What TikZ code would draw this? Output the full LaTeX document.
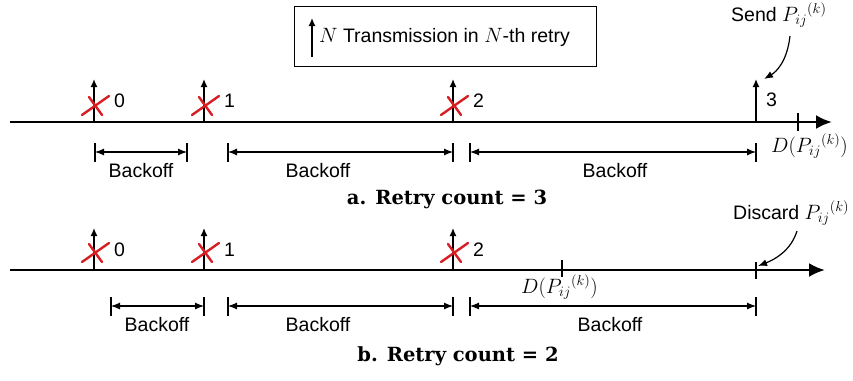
\documentclass[tikz,border=0pt]{standalone}
\usepackage{fontspec}
\setmainfont{Liberation Sans}
\newfontfamily\capfont{DejaVu Serif}
\usetikzlibrary{arrows.meta}
\definecolor{xred}{RGB}{215,30,35}
\newcommand{\Pk}{P_{ij}{}^{(k)}}
\begin{document}
\begin{tikzpicture}[x=1pt,y=-1pt,
  font=\fontsize{19.5}{23}\selectfont,
  mathlbl/.style={font=\fontsize{22}{26}\selectfont},
  timeline/.style={line width=2.6pt,-{Latex[length=16pt,width=14pt]}},
  uparrow/.style={line width=1.4pt,-{Latex[length=8pt,width=7pt]}},
  dimline/.style={line width=1.1pt,{Latex[length=9pt,width=7pt]}-{Latex[length=9pt,width=7pt]}},
  bar/.style={line width=1.3pt},
  curvearrow/.style={line width=1.2pt,-{Latex[length=9pt,width=7pt]}},
  caption/.style={font=\capfont\bfseries\fontsize{19.5}{23}\selectfont},
  redx/.pic={\draw[xred,line width=2.4pt,line cap=round] (-12,10) -- (15,-9);
             \draw[xred,line width=2.4pt,line cap=round] (-5,-8) -- (8,10);}
]
\useasboundingbox (0,0) rectangle (853,380);
% ---------- legend ----------
\node[draw,line width=1.2pt,minimum width=302pt,minimum height=60pt,anchor=north west] (legend) at (294,6) {};
\coordinate (lgb) at (312,57);
\coordinate (lgt) at (312,18);
\draw[uparrow] (lgb) -- (lgt);
\node[anchor=west,inner sep=0] (legtext) at (319,37) {$N$ Transmission in $N$-th retry};

% ---------- part a ----------
\coordinate (aL) at (10,122);
\coordinate (aR) at (832,122);
\draw[timeline] (aL) -- (aR);
\foreach \n/\x in {0/94,1/204,2/453}{
  \coordinate (a\n) at (\x,122);
  \coordinate (a\n t) at (\x,79);
  \draw[uparrow] (a\n) -- (a\n t);
  \pic at (\x,105) {redx};
  \node[anchor=west,inner sep=0] (al\n) at (\x+20,101) {\n};
}
\coordinate (a3) at (756,122);
\coordinate (a3t) at (756,79);
\draw[uparrow] (a3) -- (a3t);
\node[anchor=west,inner sep=0] (al3) at (766,100) {3};
\coordinate (aDt) at (798,113);
\coordinate (aDb) at (798,131);
\draw[bar] (aDt) -- (aDb);
\node[mathlbl,anchor=west,inner sep=0] (aD) at (771,146) {$D(\Pk)$};
\node[anchor=west,inner sep=0] (send) at (731,15) {Send \fontsize{22}{26}\selectfont$\Pk$};
\coordinate (sendS) at (790,36);
\coordinate (sendE) at (764,79);
\draw[curvearrow] (sendS) .. controls (787,62) and (776,72) .. (sendE);
% backoffs a
\foreach \i/\xa/\xb in {1/95/187,2/228/453,3/470/756}{
  \coordinate (ab\i l) at (\xa,152);
  \coordinate (ab\i r) at (\xb,152);
  \draw[dimline] (ab\i l) -- (ab\i r);
  \draw[bar] (\xa,143) -- (\xa,162);
  \draw[bar] (\xb,143) -- (\xb,162);
}
\node (abt1) at (141,171) {Backoff};
\node (abt2) at (318,171) {Backoff};
\node (abt3) at (615,171) {Backoff};
\node[caption] (capa) at (447,199) {a. Retry count = 3};

% ---------- part b ----------
\coordinate (bL) at (10,270);
\coordinate (bR) at (825,270);
\draw[timeline] (bL) -- (bR);
\foreach \n/\x in {0/94,1/204,2/453}{
  \coordinate (b\n) at (\x,270);
  \coordinate (b\n t) at (\x,228);
  \draw[uparrow] (b\n) -- (b\n t);
  \pic at (\x,252) {redx};
  \node[anchor=west,inner sep=0] (bl\n) at (\x+20,250) {\n};
}
\coordinate (bDt) at (562,260);
\coordinate (bDb) at (562,277);
\draw[bar] (bDt) -- (bDb);
\node[mathlbl,anchor=west,inner sep=0] (bD) at (521,287) {$D(\Pk)$};
\coordinate (bXt) at (756,262);
\coordinate (bXb) at (756,279);
\draw[bar] (bXt) -- (bXb);
\node[anchor=west,inner sep=0] (discard) at (733,213) {Discard \fontsize{22}{26}\selectfont$\Pk$};
\coordinate (discS) at (797,231);
\coordinate (discE) at (758,266);
\draw[curvearrow] (discS) .. controls (791,250) and (776,259) .. (discE);
% backoffs b
\foreach \i/\xa/\xb in {1/111/204,2/228/453,3/470/756}{
  \coordinate (bb\i l) at (\xa,306);
  \coordinate (bb\i r) at (\xb,306);
  \draw[dimline] (bb\i l) -- (bb\i r);
  \draw[bar] (\xa,297) -- (\xa,316);
  \draw[bar] (\xb,297) -- (\xb,316);
}
\node (bbt1) at (157,325) {Backoff};
\node (bbt2) at (318,325) {Backoff};
\node (bbt3) at (610,325) {Backoff};
\node[caption] (capb) at (458,356) {b. Retry count = 2};
\end{tikzpicture}
\end{document}
